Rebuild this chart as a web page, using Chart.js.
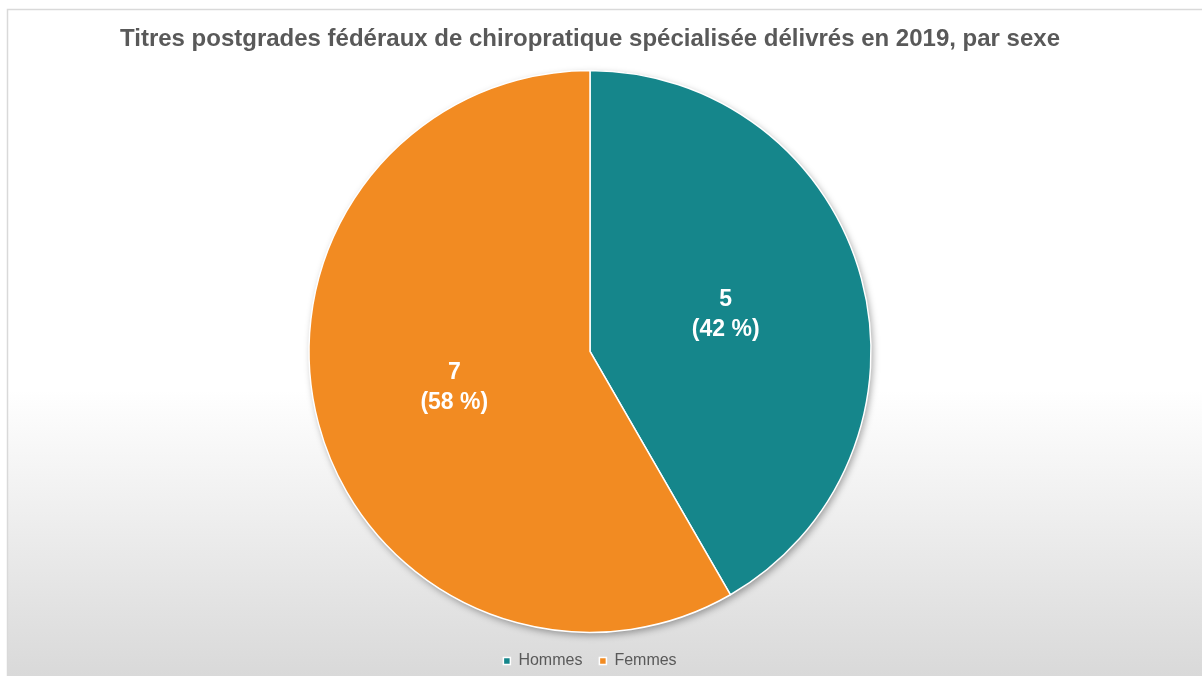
<!DOCTYPE html>
<html>
<head>
<meta charset="utf-8">
<script src="https://cdn.jsdelivr.net/npm/chart.js@4/dist/chart.umd.min.js"></script>
<style>
  html, body { margin: 0; padding: 0; background: #fff; }
  #wrap { width: 1202px; height: 676px; position: relative; }
</style>
</head>
<body>
<div id="wrap"><canvas id="chart" width="1202" height="676"></canvas></div>
<script>
const chartTitle = 'Titres postgrades fédéraux de chiropratique spécialisée délivrés en 2019, par sexe';
const categories = ['Hommes', 'Femmes'];
const counts = [5, 7];
const percents = [42, 58];
const sliceColors = ['#15868B', '#F28B22'];

// background with frame and gradient towards the bottom
const backgroundPlugin = {
    id: 'background',
    beforeDraw(chart) {
        const ctx = chart.ctx;
        ctx.save();
        ctx.fillStyle = '#ffffff';
        ctx.fillRect(0, 0, chart.width, chart.height);
        const grad = ctx.createLinearGradient(0, 390, 0, chart.height);
        grad.addColorStop(0, '#ffffff');
        grad.addColorStop(1, '#d9d9d9');
        ctx.fillStyle = grad;
        ctx.fillRect(8, 10, chart.width, chart.height);
        ctx.strokeStyle = '#d9d9d9';
        ctx.lineWidth = 1.5;
        ctx.beginPath();
        ctx.moveTo(7.5, chart.height);
        ctx.lineTo(7.5, 9.5);
        ctx.lineTo(chart.width, 9.5);
        ctx.stroke();
        ctx.restore();
    }
};

// soft shadow under the pie
const shadowPlugin = {
    id: 'pieShadow',
    beforeDatasetsDraw(chart) {
        const arc = chart.getDatasetMeta(0).data[0];
        if (!arc) return;
        const ctx = chart.ctx;
        ctx.save();
        ctx.shadowColor = 'rgba(0,0,0,0.35)';
        ctx.shadowBlur = 7;
        ctx.shadowOffsetX = 2;
        ctx.shadowOffsetY = 3;
        ctx.fillStyle = '#ffffff';
        ctx.beginPath();
        ctx.arc(arc.x, arc.y, arc.outerRadius, 0, Math.PI * 2);
        ctx.fill();
        ctx.restore();
    }
};

// value + percent labels inside slices
const labelPlugin = {
    id: 'sliceLabels',
    afterDatasetsDraw(chart) {
        const ctx = chart.ctx;
        const meta = chart.getDatasetMeta(0);
        ctx.save();
        ctx.fillStyle = '#ffffff';
        ctx.font = 'bold 23px "Liberation Sans", Arial, sans-serif';
        ctx.textAlign = 'center';
        ctx.textBaseline = 'middle';
        meta.data.forEach((arc, i) => {
            const mid = (arc.startAngle + arc.endAngle) / 2;
            const r = arc.outerRadius * 0.5;
            const x = arc.x + Math.cos(mid) * r;
            const y = arc.y + Math.sin(mid) * r;
            ctx.fillText(String(counts[i]), x, y - 15);
            ctx.fillText('(' + percents[i] + ' %)', x, y + 15);
        });
        ctx.restore();
    }
};

const ctx = document.getElementById('chart');
const chart = new Chart(ctx, {
    type: 'pie',
    data: {
        labels: categories,
        datasets: [{
            data: counts,
            backgroundColor: sliceColors,
            borderColor: '#ffffff',
            borderWidth: 1.5,
            radius: 281
        }]
    },
    options: {
        responsive: false,
        animation: false,
        layout: {
            padding: { top: 0, right: 22, bottom: -3, left: 0 }
        },
        plugins: {
            title: {
                display: true,
                text: chartTitle,
                color: '#595959',
                font: { family: '"Liberation Sans", Arial, sans-serif', size: 24, weight: 'bold', lineHeight: 1.2 },
                padding: { top: 25, bottom: 13 }
            },
            legend: {
                position: 'bottom',
                labels: {
                    color: '#595959',
                    font: { family: '"Liberation Sans", Arial, sans-serif', size: 16 },
                    boxWidth: 7,
                    boxHeight: 7,
                    padding: 17
                }
            },
            tooltip: { enabled: false }
        }
    },
    plugins: [backgroundPlugin, shadowPlugin, labelPlugin]
});
</script>
</body>
</html>
